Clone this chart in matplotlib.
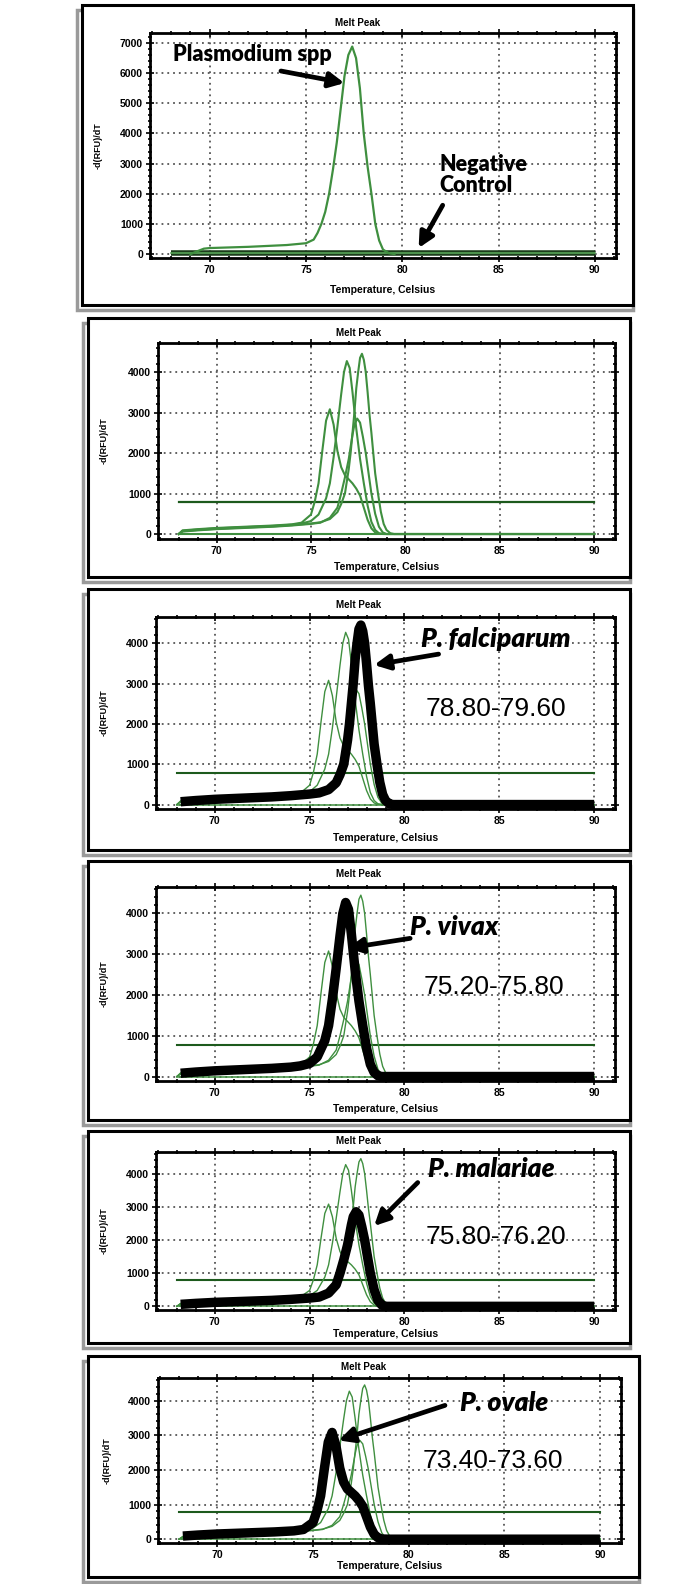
import matplotlib
matplotlib.use("Agg")
import matplotlib.pyplot as plt
from matplotlib.patches import Rectangle
from matplotlib.ticker import MultipleLocator

# --- data ---
# panel 1: Plasmodium spp + negative control
plas_t = [69.0, 69.3, 69.7, 70, 71, 72, 73, 74, 75, 75.4, 75.6, 75.8, 76.0, 76.2, 76.4, 76.6,
          76.8, 77.0, 77.2, 77.4, 77.6, 77.8, 78.0, 78.2, 78.4, 78.6, 78.8, 79.0, 79.3, 79.6]
plas_y = [0, 80, 180, 200, 220, 240, 270, 300, 360, 480, 700, 1000, 1400, 2000, 2800, 3700,
          4800, 5900, 6600, 6880, 6500, 5500, 4000, 2900, 2000, 1000, 450, 150, 30, 0]
neg_t = [68, 90]
neg_y = [50, 50]

# species curves
ovale_t = [68.0, 68.2, 69, 70, 71, 72, 73, 74, 74.5, 75.0, 75.2, 75.4, 75.6, 75.8, 76.0, 76.2,
           76.4, 76.6, 76.8, 77.0, 77.2, 77.4, 77.6, 77.8, 78.0, 78.2, 78.4, 78.6, 79.0, 90.0]
ovale_y = [0, 90, 120, 150, 170, 190, 210, 240, 280, 480, 800, 1250, 2050, 2800, 3080, 2700,
           2050, 1650, 1450, 1350, 1250, 1120, 950, 650, 350, 140, 40, 5, 0, 0]

vivax_t = [68.0, 68.2, 69, 70, 71, 72, 73, 74, 74.5, 75.0, 75.4, 75.8, 76.0, 76.2, 76.4, 76.6,
           76.75, 76.9, 77.05, 77.2, 77.4, 77.6, 77.8, 78.0, 78.2, 78.4, 78.6, 78.8, 90.0]
vivax_y = [0, 80, 110, 140, 160, 180, 200, 230, 260, 320, 480, 880, 1250, 1900, 2650, 3450,
           4000, 4270, 4100, 3500, 2600, 1850, 1250, 700, 300, 100, 20, 0, 0]

falc_t = [68.0, 68.2, 69, 70, 71, 72, 73, 74, 75.0, 75.5, 76.0, 76.4, 76.6, 76.8, 77.0, 77.1,
          77.2, 77.3, 77.4, 77.5, 77.6, 77.7, 77.8, 77.9, 78.0, 78.1, 78.2, 78.3, 78.4, 78.55,
          78.7, 78.85, 79.0, 79.2, 79.4, 90.0]
falc_y = [0, 70, 100, 130, 150, 170, 190, 220, 260, 290, 370, 540, 740, 1000, 1600, 2000,
          2500, 3000, 3600, 4000, 4350, 4450, 4300, 4000, 3500, 2950, 2500, 2000, 1500, 1000,
          550, 250, 100, 20, 0, 0]

mal_t = [68.0, 68.2, 69, 70, 71, 72, 73, 74, 75.0, 75.5, 76.0, 76.4, 76.6, 76.8, 77.0, 77.1,
         77.2, 77.3, 77.45, 77.6, 77.75, 77.9, 78.05, 78.2, 78.4, 78.6, 78.8, 79.0, 90.0]
mal_y = [0, 60, 90, 120, 140, 160, 180, 210, 250, 280, 400, 650, 1000, 1400, 1850, 2150,
         2450, 2700, 2850, 2750, 2400, 2000, 1500, 1000, 500, 180, 40, 0, 0]

thr_t = [68, 90]
thr_y = [780, 780]
base_t = [68, 90]
base_y = [0, 0]

curves = {
    "falciparum": (falc_t, falc_y),
    "vivax": (vivax_t, vivax_y),
    "malariae": (mal_t, mal_y),
    "ovale": (ovale_t, ovale_y),
}
species_labels = ["P. falciparum", "P. vivax", "P. malariae", "P. ovale"]
species_keys = ["falciparum", "vivax", "malariae", "ovale"]
tm_ranges = ["78.80-79.60", "75.20-75.80", "75.80-76.20", "73.40-73.60"]

# --- layout (pixels of the 700x1584 image) ---
W, H = 700, 1584
fig = plt.figure(figsize=(W / 100, H / 100), dpi=100)
fig.patch.set_facecolor("white")

GREEN = "#3f8f3f"
DKGREEN = "#1d5a1d"
TICKFONT = ["Liberation Sans", "DejaVu Sans"]
NOTEFONT = ["Lato", "DejaVu Sans"]

boxes = [(82, 5, 633, 305), (88, 318, 630, 577), (88, 589, 630, 850),
         (88, 861, 630, 1120), (88, 1131, 630, 1343), (88, 1356, 639, 1577)]
axboxes = [(150, 33, 616, 258), (158, 343, 615, 539), (156, 617, 615, 809),
           (156, 887, 615, 1081), (156, 1152, 615, 1310), (158, 1378, 621, 1543)]
title_y = [23, 333, 605, 874, 1141, 1367]
xlab_off = [32, 28, 29, 28, 24, 23]
ylab_x = [98, 104, 104, 104, 104, 107]

# panel frames with grey shadow, kept behind the axes
for (x0, y0, x1, y1) in boxes:
    fig.add_artist(Rectangle((x0 / W - 5 / W, 1 - (y1 + 5) / H), (x1 - x0) / W + 5 / W,
                             (y1 - y0) / H, transform=fig.transFigure, facecolor="none",
                             edgecolor="#9a9a9a", lw=2.5, zorder=-10))
    fig.add_artist(Rectangle((x0 / W, 1 - y1 / H), (x1 - x0) / W, (y1 - y0) / H,
                             transform=fig.transFigure, facecolor="white",
                             edgecolor="black", lw=2.2, zorder=-9))


def make_axes(i, ymax, ymin):
    x0, y0, x1, y1 = axboxes[i]
    ax = fig.add_axes([x0 / W, 1 - y1 / H, (x1 - x0) / W, (y1 - y0) / H])
    ax.set_xlim(66.9, 91.1)
    ax.set_ylim(ymin, ymax)
    ax.xaxis.set_major_locator(MultipleLocator(5))
    ax.xaxis.set_minor_locator(MultipleLocator(1))
    ax.yaxis.set_major_locator(MultipleLocator(1000))
    ax.yaxis.set_minor_locator(MultipleLocator(200))
    ax.tick_params(which="both", direction="inout", top=True, right=True, width=1.2)
    ax.tick_params(which="major", length=6)
    ax.tick_params(which="minor", length=3.5)
    ax.tick_params(axis="both", labelsize=7.5, pad=2)
    for lab in ax.get_xticklabels() + ax.get_yticklabels():
        lab.set_fontweight("bold")
        lab.set_family(TICKFONT)
    for s in ax.spines.values():
        s.set_linewidth(2)
    ax.grid(True, which="major", ls=(0, (1, 2.2)), color="#555555", lw=1.3)
    ax.set_axisbelow(True)
    bx0, _, bx1, _ = boxes[i]
    fig.text((bx0 + bx1) / 2 / W, 1 - title_y[i] / H, "Melt Peak", ha="center", va="center",
             fontsize=7, fontweight="bold", family=TICKFONT)
    fig.text((x0 + x1) / 2 / W, 1 - (y1 + xlab_off[i]) / H, "Temperature, Celsius",
             ha="center", va="center", fontsize=7.5, fontweight="bold", family=TICKFONT)
    fig.text(ylab_x[i] / W, 1 - (y0 + y1) / 2 / H, "-d(RFU)/dT", rotation=90, ha="center",
             va="center", fontsize=6.5, fontweight="bold", family=TICKFONT)
    return ax


arrow_kw = dict(arrowstyle="-|>,head_length=0.9,head_width=0.45", color="black", lw=3.4,
                shrinkA=0, shrinkB=0)

# panel 1
ax = make_axes(0, 7330, -130)
ax.plot(neg_t, neg_y, color="#1b3d1b", lw=4, solid_capstyle="butt")
ax.plot(neg_t, neg_y, color="#58a458", lw=1.2)
ax.plot(plas_t, plas_y, color=GREEN, lw=1.6)
ax.text(72.2, 6620, "Plasmodium spp", ha="center", va="center", fontsize=15.5,
        fontweight="heavy", family=NOTEFONT)
ax.annotate("", xy=(77.0, 5670), xytext=(73.7, 6070), arrowprops=arrow_kw)
ax.text(81.95, 2620, "Negative\nControl", ha="left", va="center", fontsize=15.5,
        fontweight="heavy", family=NOTEFONT, linespacing=1.05)
ax.annotate("", xy=(80.85, 200), xytext=(82.1, 1620), arrowprops=arrow_kw)

# panel 2: all four species in green
ax = make_axes(1, 4716, -123)
ax.plot(base_t, base_y, color=GREEN, lw=1.5)
ax.plot(thr_t, thr_y, color=DKGREEN, lw=1.6)
for key in species_keys:
    t, y = curves[key]
    ax.plot(t, y, color=GREEN, lw=1.5)

# panels 3-6: one species highlighted in black
note_pos = [
    ((84.8, 4100), (81.8, 3730), (78.4, 3460), (84.8, 2370)),
    ((82.6, 3680), (80.3, 3390), (77.0, 3150), (84.7, 2195)),
    ((84.6, 4150), (80.7, 3730), (78.4, 2420), (84.8, 2090)),
    ((85.0, 3940), (81.9, 3860), (76.34, 2850), (84.4, 2270)),
]
for j, key in enumerate(species_keys):
    ax = make_axes(j + 2, 4650, -110)
    ax.plot(base_t, base_y, color=GREEN, lw=1.1)
    ax.plot(thr_t, thr_y, color=DKGREEN, lw=1.5)
    for other in species_keys:
        if other != key:
            t, y = curves[other]
            ax.plot(t, y, color=GREEN, lw=1.0)
    t, y = curves[key]
    # the highlighted trace starts on its plateau, not at the zero point
    ax.plot(t[1:], y[1:], color="black", lw=6.8, solid_joinstyle="round",
            solid_capstyle="butt")
    lab_xy, tail, head, rng_xy = note_pos[j]
    ax.text(lab_xy[0], lab_xy[1], species_labels[j], ha="center", va="center", fontsize=19,
            fontweight="heavy", style="italic", family=NOTEFONT)
    ax.annotate("", xy=head, xytext=tail, arrowprops=arrow_kw)
    ax.text(rng_xy[0], rng_xy[1], tm_ranges[j], ha="center", va="center", fontsize=19,
            family=TICKFONT)

fig.savefig("out.png", dpi=100)
